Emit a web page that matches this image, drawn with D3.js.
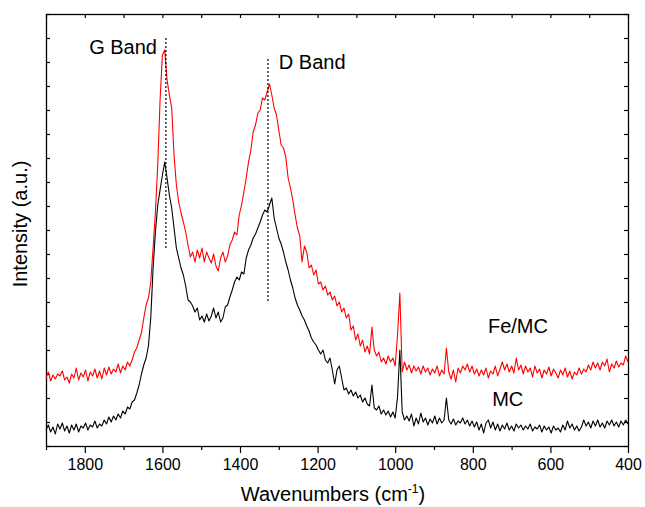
<!DOCTYPE html>
<meta charset="utf-8">
<style>
body { margin: 0; background: #fff; }
svg { font-family: "Liberation Sans", Arial, sans-serif; }
.axis path { display: none; }
.axis line { stroke: #000; stroke-width: 1.2px; }
.axis text { font-size: 16px; fill: #000; }
.frame { fill: none; stroke: #000; stroke-width: 1.3px; }
.spectrum { fill: none; stroke-width: 1.1px; stroke-linejoin: round; }
.band { stroke: #000; stroke-width: 1.2px; stroke-dasharray: 2,2; }
.label { font-size: 20px; fill: #000; }
</style>
<body>
<script src="https://cdnjs.cloudflare.com/ajax/libs/d3/7.8.5/d3.min.js"></script>
<script>

// Raman spectra, sampled every 6 cm-1 from 1900 down to 400
var waveStart = 1900, waveStep = 6;

var feMC = [
  680,740,650,710,670,720,700,750,660,690,
  630,720,680,780,660,730,690,760,650,740,
  700,770,680,750,670,780,710,790,720,770,
  740,820,730,800,760,840,800,860,940,980,
  1060,1130,1280,1410,1480,1640,1980,2340,2810,3460,
  3910,3960,3660,3510,3380,2910,2610,2440,2330,2240,
  2140,2010,1890,1940,1840,1960,1880,1980,1840,1940,
  1880,1830,1920,1800,1750,1880,1940,1840,1900,2010,
  2060,2140,2110,2310,2410,2540,2680,2840,2960,3140,
  3210,3330,3360,3480,3460,3540,3620,3510,3380,3310,
  3160,3010,2980,2890,2680,2580,2460,2310,2180,2100,
  1840,2000,1940,1780,1810,1710,1760,1620,1640,1560,
  1600,1510,1540,1460,1500,1400,1440,1340,1380,1280,
  1320,1160,1200,1060,1120,1000,1060,940,1000,920,
  1190,960,900,940,840,880,820,900,840,880,
  800,1110,1530,740,840,760,810,730,800,750,
  790,720,800,740,780,710,770,730,800,700,
  760,720,980,740,670,760,640,780,730,800,
  760,820,740,800,720,770,700,760,710,780,
  680,750,720,800,700,770,840,760,820,740,
  800,730,880,760,810,720,800,740,780,690,
  800,730,770,680,760,720,790,700,770,730,
  680,760,710,780,690,750,670,740,710,780,
  720,770,740,810,760,840,780,830,760,840,
  800,870,740,820,780,850,790,830,810,900,
  840
];

var mc = [
  160,210,140,190,120,220,170,230,150,200,
  130,210,160,220,140,200,180,230,160,210,
  190,250,180,220,200,260,220,290,240,300,
  260,320,280,350,320,390,370,440,460,530,
  610,720,810,880,1000,1280,1780,2140,2410,2560,
  2710,2840,2680,2510,2380,2180,1980,1880,1780,1710,
  1600,1460,1440,1400,1340,1380,1260,1300,1240,1320,
  1250,1300,1380,1280,1340,1240,1280,1390,1410,1490,
  1560,1640,1690,1660,1740,1720,1880,1960,2010,2080,
  2120,2180,2240,2310,2360,2340,2410,2480,2280,2180,
  2080,2020,1940,1840,1760,1660,1580,1480,1410,1360,
  1300,1260,1200,1150,1080,1040,1010,960,920,960,
  860,830,880,760,620,760,800,680,560,580,
  520,560,500,540,480,510,440,480,420,400,
  610,380,360,400,320,360,310,350,290,340,
  280,490,960,340,260,300,250,320,200,280,
  220,330,240,280,210,270,230,300,220,280,
  230,260,480,260,220,270,210,250,230,280,
  220,260,200,250,190,240,160,220,130,230,
  260,180,240,160,220,150,210,170,230,160,
  200,150,220,180,210,160,200,170,220,150,
  190,170,210,140,200,160,190,130,200,160,
  180,140,210,160,250,180,220,160,200,150,
  190,260,200,240,180,250,200,260,190,230,
  180,250,210,260,200,240,190,250,210,260,
  220
];

var seriesNames = ["Fe/MC", "MC"];
var seriesColors = ["#ff0000", "#000000"];

// dotted band markers: position (cm-1) and intensity span
var bandNames = ["G Band", "D Band"];
var bandPos = [1591, 1328];
var bandTop = [4080, 3870];
var bandBottom = [1980, 1430];

var xTicksMajor = [1800, 1600, 1400, 1200, 1000, 800, 600, 400];
var xTicksMinor = [1900, 1700, 1500, 1300, 1100, 900, 700, 500];

var margin = {top: 14, right: 17, bottom: 61, left: 46};
var width = 645 - margin.left - margin.right;
var height = 507 - margin.top - margin.bottom;

var x = d3.scaleLinear().domain([1900, 400]).range([0, width]);
var y = d3.scaleLinear().domain([0, 4320]).range([height, 0]);
var yTicks = d3.range(0, 4321, 240);

var svg = d3.select("body").append("svg")
    .attr("width", 645)
    .attr("height", 507)
  .append("g")
    .attr("transform", "translate(" + margin.left + "," + margin.top + ")");

// bottom axis: labelled major ticks and unlabelled minor ones, outward
svg.append("g")
    .attr("class", "x axis")
    .attr("transform", "translate(0," + height + ")")
    .call(d3.axisBottom(x).tickValues(xTicksMajor).tickSize(7).tickPadding(6).tickFormat(d3.format("d")));

svg.append("g")
    .attr("class", "x axis minor")
    .attr("transform", "translate(0," + height + ")")
    .call(d3.axisBottom(x).tickValues(xTicksMinor).tickSize(4).tickFormat(""));

// top axis: inward ticks
svg.append("g")
    .attr("class", "x axis")
    .call(d3.axisTop(x).tickValues(xTicksMajor.concat(xTicksMinor)).tickSize(-4).tickFormat(""));

// left and right: inward ticks, no labels
svg.append("g")
    .attr("class", "y axis")
    .call(d3.axisLeft(y).tickValues(yTicks).tickSize(-4).tickFormat(""));

svg.append("g")
    .attr("class", "y axis")
    .attr("transform", "translate(" + width + ",0)")
    .call(d3.axisRight(y).tickValues(yTicks).tickSize(-4).tickFormat(""));

svg.append("rect")
    .attr("class", "frame")
    .attr("x", 0.5)
    .attr("y", 0.5)
    .attr("width", width)
    .attr("height", height);

var line = d3.line()
    .x(function(d, i) { return x(waveStart - i * waveStep); })
    .y(function(d) { return y(d); });

svg.selectAll(".spectrum")
    .data([feMC, mc])
  .enter().append("path")
    .attr("class", "spectrum")
    .attr("stroke", function(d, i) { return seriesColors[i]; })
    .attr("d", line);

svg.selectAll(".band")
    .data(bandPos)
  .enter().append("line")
    .attr("class", "band")
    .attr("x1", function(d) { return x(d); })
    .attr("x2", function(d) { return x(d); })
    .attr("y1", function(d, i) { return y(bandTop[i]); })
    .attr("y2", function(d, i) { return y(bandBottom[i]); });

// annotations
svg.append("text").attr("class", "label")
    .attr("text-anchor", "end")
    .attr("x", x(1614)).attr("y", y(3920))
    .text(bandNames[0]);

svg.append("text").attr("class", "label")
    .attr("x", x(1300)).attr("y", y(3770))
    .text(bandNames[1]);

svg.append("text").attr("class", "label")
    .attr("x", x(761)).attr("y", y(1130))
    .text(seriesNames[0]);

svg.append("text").attr("class", "label")
    .attr("x", x(750)).attr("y", y(400))
    .text(seriesNames[1]);

// axis titles
var xTitle = svg.append("text").attr("class", "label")
    .attr("text-anchor", "middle")
    .attr("x", width / 2 - 4)
    .attr("y", height + 55);
xTitle.append("tspan").text("Wavenumbers (cm");
xTitle.append("tspan").attr("dy", -8).attr("font-size", "12px").text("-1");
xTitle.append("tspan").attr("dy", 8).text(")");

svg.append("text").attr("class", "label")
    .attr("text-anchor", "middle")
    .attr("transform", "translate(-19," + (height / 2 - 6) + ") rotate(-90)")
    .text("Intensity (a.u.)");

</script>
</body>
